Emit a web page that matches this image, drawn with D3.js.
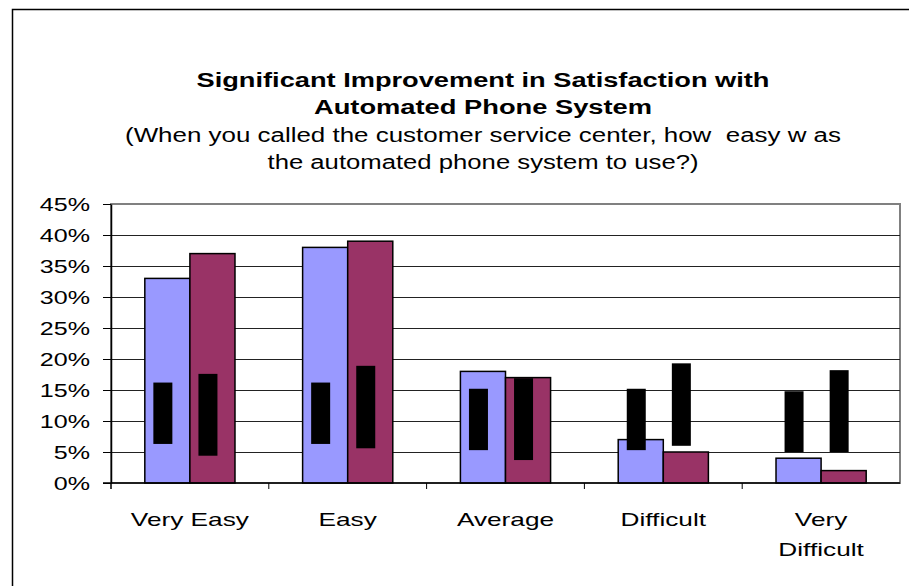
<!DOCTYPE html>
<html>
<head>
<meta charset="utf-8">
<script src="https://cdn.jsdelivr.net/npm/d3@7"></script>
<style>
	body { margin: 0; background: #fff; }
	svg { display: block; font-family: "Liberation Sans", Arial, sans-serif; }
</style>
</head>
<body>
<svg width="909" height="586"></svg>
<script>
// categories and the two survey waves
var categories = ["Very Easy", "Easy", "Average", "Difficult", "Very Difficult"];
var seriesA = [33, 38, 18, 7, 4];
var seriesB = [37, 39, 17, 5, 2];
var yTicks = [0, 5, 10, 15, 20, 25, 30, 35, 40, 45];

// the broken data labels show up as black blocks: [top, bottom] in %
var labelA = [[16.2, 6.3], [16.2, 6.3], [15.2, 5.3], [15.2, 5.3], [14.8, 5.0]];
var labelB = [[17.6, 4.4], [18.9, 5.6], [16.9, 3.7], [19.3, 6.0], [18.2, 5.0]];

var titleLines = ["Significant Improvement in Satisfaction with", "Automated Phone System"];
var subLines = ["(When you called the customer service center, how  easy w as", "the automated phone system to use?)"];

// the source text is drawn wider than normal
var STRETCH = 1.38;
var titleWidths = [573, 338];
var subWidths = [716, 431];

var svg = d3.select("svg"), width = +svg.attr("width"), height = +svg.attr("height");

svg.append("rect").attr("width", width).attr("height", height).attr("fill", "#fff");

// outer chart border (right and bottom fall outside the picture)
svg.append("rect")
	.attr("x", 12.5).attr("y", 9.5)
	.attr("width", width + 20).attr("height", height + 20)
	.attr("fill", "none").attr("stroke", "#000").attr("stroke-width", 1.5);

var plot = { left: 111, right: 900, top: 204, bottom: 483 };

var x = d3.scaleBand().domain(categories).range([plot.left, plot.right]).paddingInner(0).paddingOuter(0);
var bw = x.bandwidth() / 3.5;
var y = d3.scaleLinear().domain([0, 45]).range([plot.bottom, plot.top]);

function stretch(sel, k) {
	sel.each(function() {
		var len = this.getComputedTextLength();
		d3.select(this).attr("textLength", len * k).attr("lengthAdjust", "spacingAndGlyphs");
	});
}

// plot area border
svg.append("rect")
	.attr("x", plot.left).attr("y", plot.top)
	.attr("width", plot.right - plot.left).attr("height", plot.bottom - plot.top)
	.attr("fill", "#fff").attr("stroke", "#808080").attr("stroke-width", 2);

// gridlines
svg.append("g").selectAll("line")
	.data(yTicks.slice(1, -1))
	.enter().append("line")
	.attr("x1", plot.left).attr("x2", plot.right)
	.attr("y1", function(d) { return Math.round(y(d)) + 0.5; })
	.attr("y2", function(d) { return Math.round(y(d)) + 0.5; })
	.attr("stroke", "#222").attr("stroke-width", 1);

// bars
var groups = svg.append("g").selectAll("g")
	.data(categories)
	.enter().append("g");

function barX(cat, k) { return x(cat) + 0.75 * bw + k * bw; }

groups.append("rect")
	.attr("x", function(d) { return barX(d, 0); })
	.attr("y", function(d, i) { return y(seriesA[i]); })
	.attr("width", bw)
	.attr("height", function(d, i) { return y(0) - y(seriesA[i]); })
	.attr("fill", "#9999FF").attr("stroke", "#000").attr("stroke-width", 1.5);

groups.append("rect")
	.attr("x", function(d) { return barX(d, 1); })
	.attr("y", function(d, i) { return y(seriesB[i]); })
	.attr("width", bw)
	.attr("height", function(d, i) { return y(0) - y(seriesB[i]); })
	.attr("fill", "#993366").attr("stroke", "#000").attr("stroke-width", 1.5);

// label blocks
groups.append("rect")
	.attr("x", function(d) { return barX(d, 0) + bw / 2 - 14; })
	.attr("y", function(d, i) { return y(labelA[i][0]); })
	.attr("width", 19)
	.attr("height", function(d, i) { return y(labelA[i][1]) - y(labelA[i][0]); })
	.attr("fill", "#000");

groups.append("rect")
	.attr("x", function(d) { return barX(d, 1) + bw / 2 - 14; })
	.attr("y", function(d, i) { return y(labelB[i][0]); })
	.attr("width", 19)
	.attr("height", function(d, i) { return y(labelB[i][1]) - y(labelB[i][0]); })
	.attr("fill", "#000");

// y axis
var yAxis = d3.axisLeft(y).tickValues(yTicks).tickSize(8).tickSizeOuter(0).tickPadding(13)
	.tickFormat(function(d) { return d + "%"; });
svg.append("g")
	.attr("transform", "translate(" + plot.left + ",0)")
	.call(yAxis)
	.call(function(g) {
		g.select(".domain").attr("stroke", "#000").attr("stroke-width", 1.5);
		g.selectAll(".tick line").attr("stroke", "#000");
		g.selectAll(".tick text").attr("font-size", 19).attr("fill", "#000")
			.attr("font-family", "Liberation Sans, Arial, sans-serif");
		stretch(g.selectAll(".tick text"), 1.32);
	});

// small stub of the value axis below the category axis
svg.append("line")
	.attr("x1", plot.left).attr("x2", plot.left)
	.attr("y1", plot.bottom).attr("y2", plot.bottom + 6)
	.attr("stroke", "#000").attr("stroke-width", 1.5);

// x axis line and ticks at category boundaries
svg.append("line")
	.attr("x1", plot.left - 8).attr("x2", plot.right)
	.attr("y1", plot.bottom).attr("y2", plot.bottom)
	.attr("stroke", "#000").attr("stroke-width", 1.5);

svg.append("g").selectAll("line")
	.data(categories.slice(1))
	.enter().append("line")
	.attr("x1", function(d) { return x(d); }).attr("x2", function(d) { return x(d); })
	.attr("y1", plot.bottom).attr("y2", plot.bottom + 6)
	.attr("stroke", "#000");

// category labels (one text per line so each can be stretched)
var catLines = [];
categories.forEach(function(c) {
	var words = c === "Very Difficult" ? ["Very", "Difficult"] : [c];
	words.forEach(function(w, i) { catLines.push({ cat: c, text: w, line: i }); });
});

svg.append("g").selectAll("text")
	.data(catLines)
	.enter().append("text")
	.attr("text-anchor", "middle")
	.attr("font-size", 19)
	.attr("x", function(d) { return x(d.cat) + x.bandwidth() / 2; })
	.attr("y", function(d) { return 526 + d.line * 30; })
	.text(function(d) { return d.text; })
	.call(stretch, STRETCH);

// titles
svg.append("g").selectAll("text")
	.data(titleLines)
	.enter().append("text")
	.attr("x", 483).attr("y", function(d, i) { return 87 + i * 27; })
	.attr("text-anchor", "middle")
	.attr("font-size", 20).attr("font-weight", "bold")
	.attr("textLength", function(d, i) { return titleWidths[i]; })
	.attr("lengthAdjust", "spacingAndGlyphs")
	.text(function(d) { return d; });

svg.append("g").selectAll("text")
	.data(subLines)
	.enter().append("text")
	.attr("x", 483).attr("y", function(d, i) { return 142 + i * 27; })
	.attr("text-anchor", "middle")
	.attr("font-size", 20)
	.attr("textLength", function(d, i) { return subWidths[i]; })
	.attr("lengthAdjust", "spacingAndGlyphs")
	.style("white-space", "pre")
	.text(function(d) { return d; });
</script>
</body>
</html>
